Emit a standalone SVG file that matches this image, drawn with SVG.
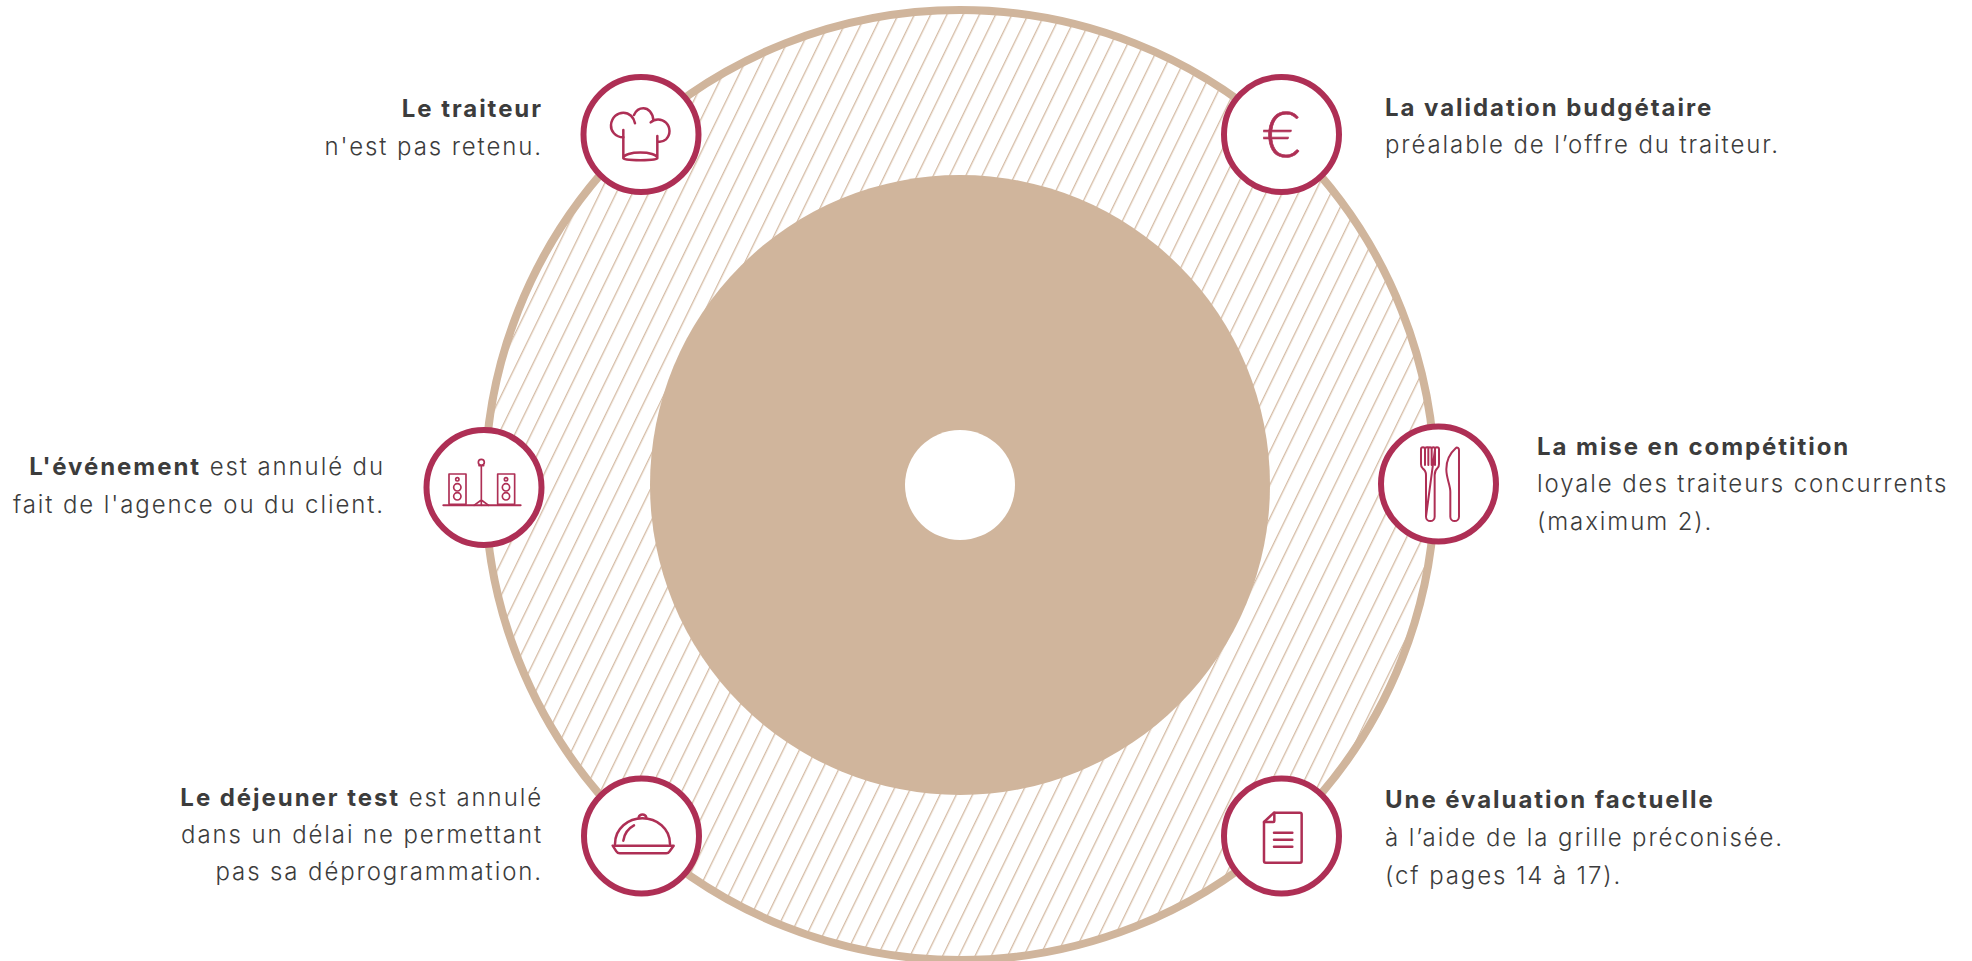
<svg xmlns="http://www.w3.org/2000/svg" width="1972" height="961" viewBox="0 0 1972 961">
<style>
text{font-family:"Inter","Noto Sans","Liberation Sans",sans-serif;font-size:24px;font-weight:300;fill:#3c3c3c;letter-spacing:1.9px}
.b{font-weight:700;letter-spacing:1.95px}
.r{text-anchor:end}
.badge{fill:#fff;stroke:#ae2f55;stroke-width:6}
.ic{fill:none;stroke:#ae2f55;stroke-width:7.5;stroke-linecap:round;stroke-linejoin:round}
.euro{font-family:"Lato","Liberation Sans",sans-serif;font-size:64px;font-weight:300;fill:#ae2f55;stroke:#ae2f55;stroke-width:.7;text-anchor:middle;letter-spacing:0}
</style>
<defs>
<pattern id="hatch" patternUnits="userSpaceOnUse" width="14.6" height="14.6" patternTransform="translate(962.7 14) rotate(26)">
<line x1="0.7" y1="0" x2="0.7" y2="14.6" stroke="#d0b59c" stroke-width="1.2"/>
</pattern>
</defs>
<rect width="1972" height="961" fill="#fff"/>
<g id="disc">
<circle cx="960" cy="485" r="475" fill="url(#hatch)" stroke="#d0b59c" stroke-width="8"/>
<circle cx="960" cy="485" r="310" fill="#d0b59c"/>
<circle cx="960" cy="485" r="55" fill="#fff"/>
</g>
<g id="connectors"/>
<g id="node-traiteur">
<circle class="badge" cx="641" cy="134.5" r="57.5"/>
<g class="ic" transform="translate(560 60) scale(.3333)">
<path d="M190 232C165 232 152 212 153 195C155 172 172 158 190 158C208 158 222 172 225 190M222 165C228 152 240 145 250 145C265 145 278 158 280 180M272 187C285 175 305 176 318 188C332 202 332 225 318 238C310 245 302 246 295 245"/>
<path d="M190 210V295M292 228V295M190 295C190 303 292 303 292 295C292 272 190 272 190 295Z"/>
</g>
<text class="r" x="543" y="117"><tspan class="b">Le traiteur</tspan></text>
<text class="r" x="543" y="155">n'est pas retenu.</text>
</g>
<g id="node-budget">
<circle class="badge" cx="1281.5" cy="134.5" r="57.5"/>
<text class="euro" x="1281.5" y="157">€</text>
<text x="1385" y="116"><tspan class="b">La validation budgétaire</tspan></text>
<text x="1385" y="153">préalable de l’offre du traiteur.</text>
</g>
<g id="node-evenement">
<circle class="badge" cx="484" cy="487.5" r="57.5"/>
<g class="ic" style="stroke-width:5" transform="translate(410 415) scale(.3333)">
<rect x="117" y="177" width="51" height="91"/><circle cx="142" cy="193" r="5"/><circle cx="142" cy="217" r="11"/><circle cx="142" cy="244" r="11"/>
<rect x="263" y="177" width="51" height="91"/><circle cx="288" cy="193" r="5"/><circle cx="288" cy="217" r="11"/><circle cx="288" cy="244" r="11"/>
<path d="M100 271H332" style="stroke-width:6"/><path d="M214 155V271M214 255L192 271M214 255L236 271"/>
<circle cx="214" cy="142" r="9"/><path d="M207 152H221"/>
</g>
<text class="r" x="385" y="475"><tspan class="b">L'événement</tspan> est annulé du</text>
<text class="r" x="385" y="513">fait de l'agence ou du client.</text>
</g>
<g id="node-competition">
<circle class="badge" cx="1438.5" cy="484" r="57.5"/>
<g class="ic" style="stroke-width:6" transform="translate(1365 410) scale(.3333)">
<path d="M183 320V195Q183 182 173 175Q168 171 168 162V118Q168 112 174 112Q180 112 180 118V165M180 118Q180 112 186 112H190V165M190 118Q190 112 195 112Q200 112 200 118V165M200 118Q200 112 205 112Q210 112 210 118V165M210 118Q210 112 216 112Q222 112 222 118V162Q222 171 217 175Q209 182 209 195V320A13 13 0 0 1 183 320Z"/>
<path d="M282 122A6 8 0 0 0 272 115C255 130 244 155 244 178C244 205 256 225 256 245V320A13 13 0 0 0 282 320Z"/>
</g>
<text x="1537" y="455"><tspan class="b">La mise en compétition</tspan></text>
<text x="1537" y="492">loyale des traiteurs concurrents</text>
<text x="1537" y="530">(maximum 2).</text>
</g>
<g id="node-dejeuner">
<circle class="badge" cx="641.5" cy="836" r="57.5"/>
<g class="ic" transform="translate(565 760) scale(.3333)">
<path d="M150 252C150 205 190 175 232 175C275 175 315 205 315 252"/>
<path d="M221 172A12 12 0 0 1 244 172"/>
<path d="M175 242C178 220 190 205 207 196"/>
<path d="M143 257H326L314 274Q310 280 304 280H164Q158 280 154 274Z"/>
</g>
<text class="r" x="543" y="806"><tspan class="b">Le déjeuner test</tspan> est annulé</text>
<text class="r" x="543" y="843">dans un délai ne permettant</text>
<text class="r" x="543" y="880">pas sa déprogrammation.</text>
</g>
<g id="node-evaluation">
<circle class="badge" cx="1281.5" cy="836" r="57.5"/>
<g class="ic" transform="translate(1210 760) scale(.3333)">
<path d="M192 158H270Q275 158 275 163V303Q275 308 270 308H167Q162 308 162 303V186Z"/>
<path d="M162 186H190Q193 186 193 183V158"/>
<path d="M192 218H247M192 239H247M192 260H247"/>
</g>
<text x="1385" y="808"><tspan class="b">Une évaluation factuelle</tspan></text>
<text x="1385" y="846">à l’aide de la grille préconisée.</text>
<text x="1385" y="884">(cf pages 14 à 17).</text>
</g>
</svg>
